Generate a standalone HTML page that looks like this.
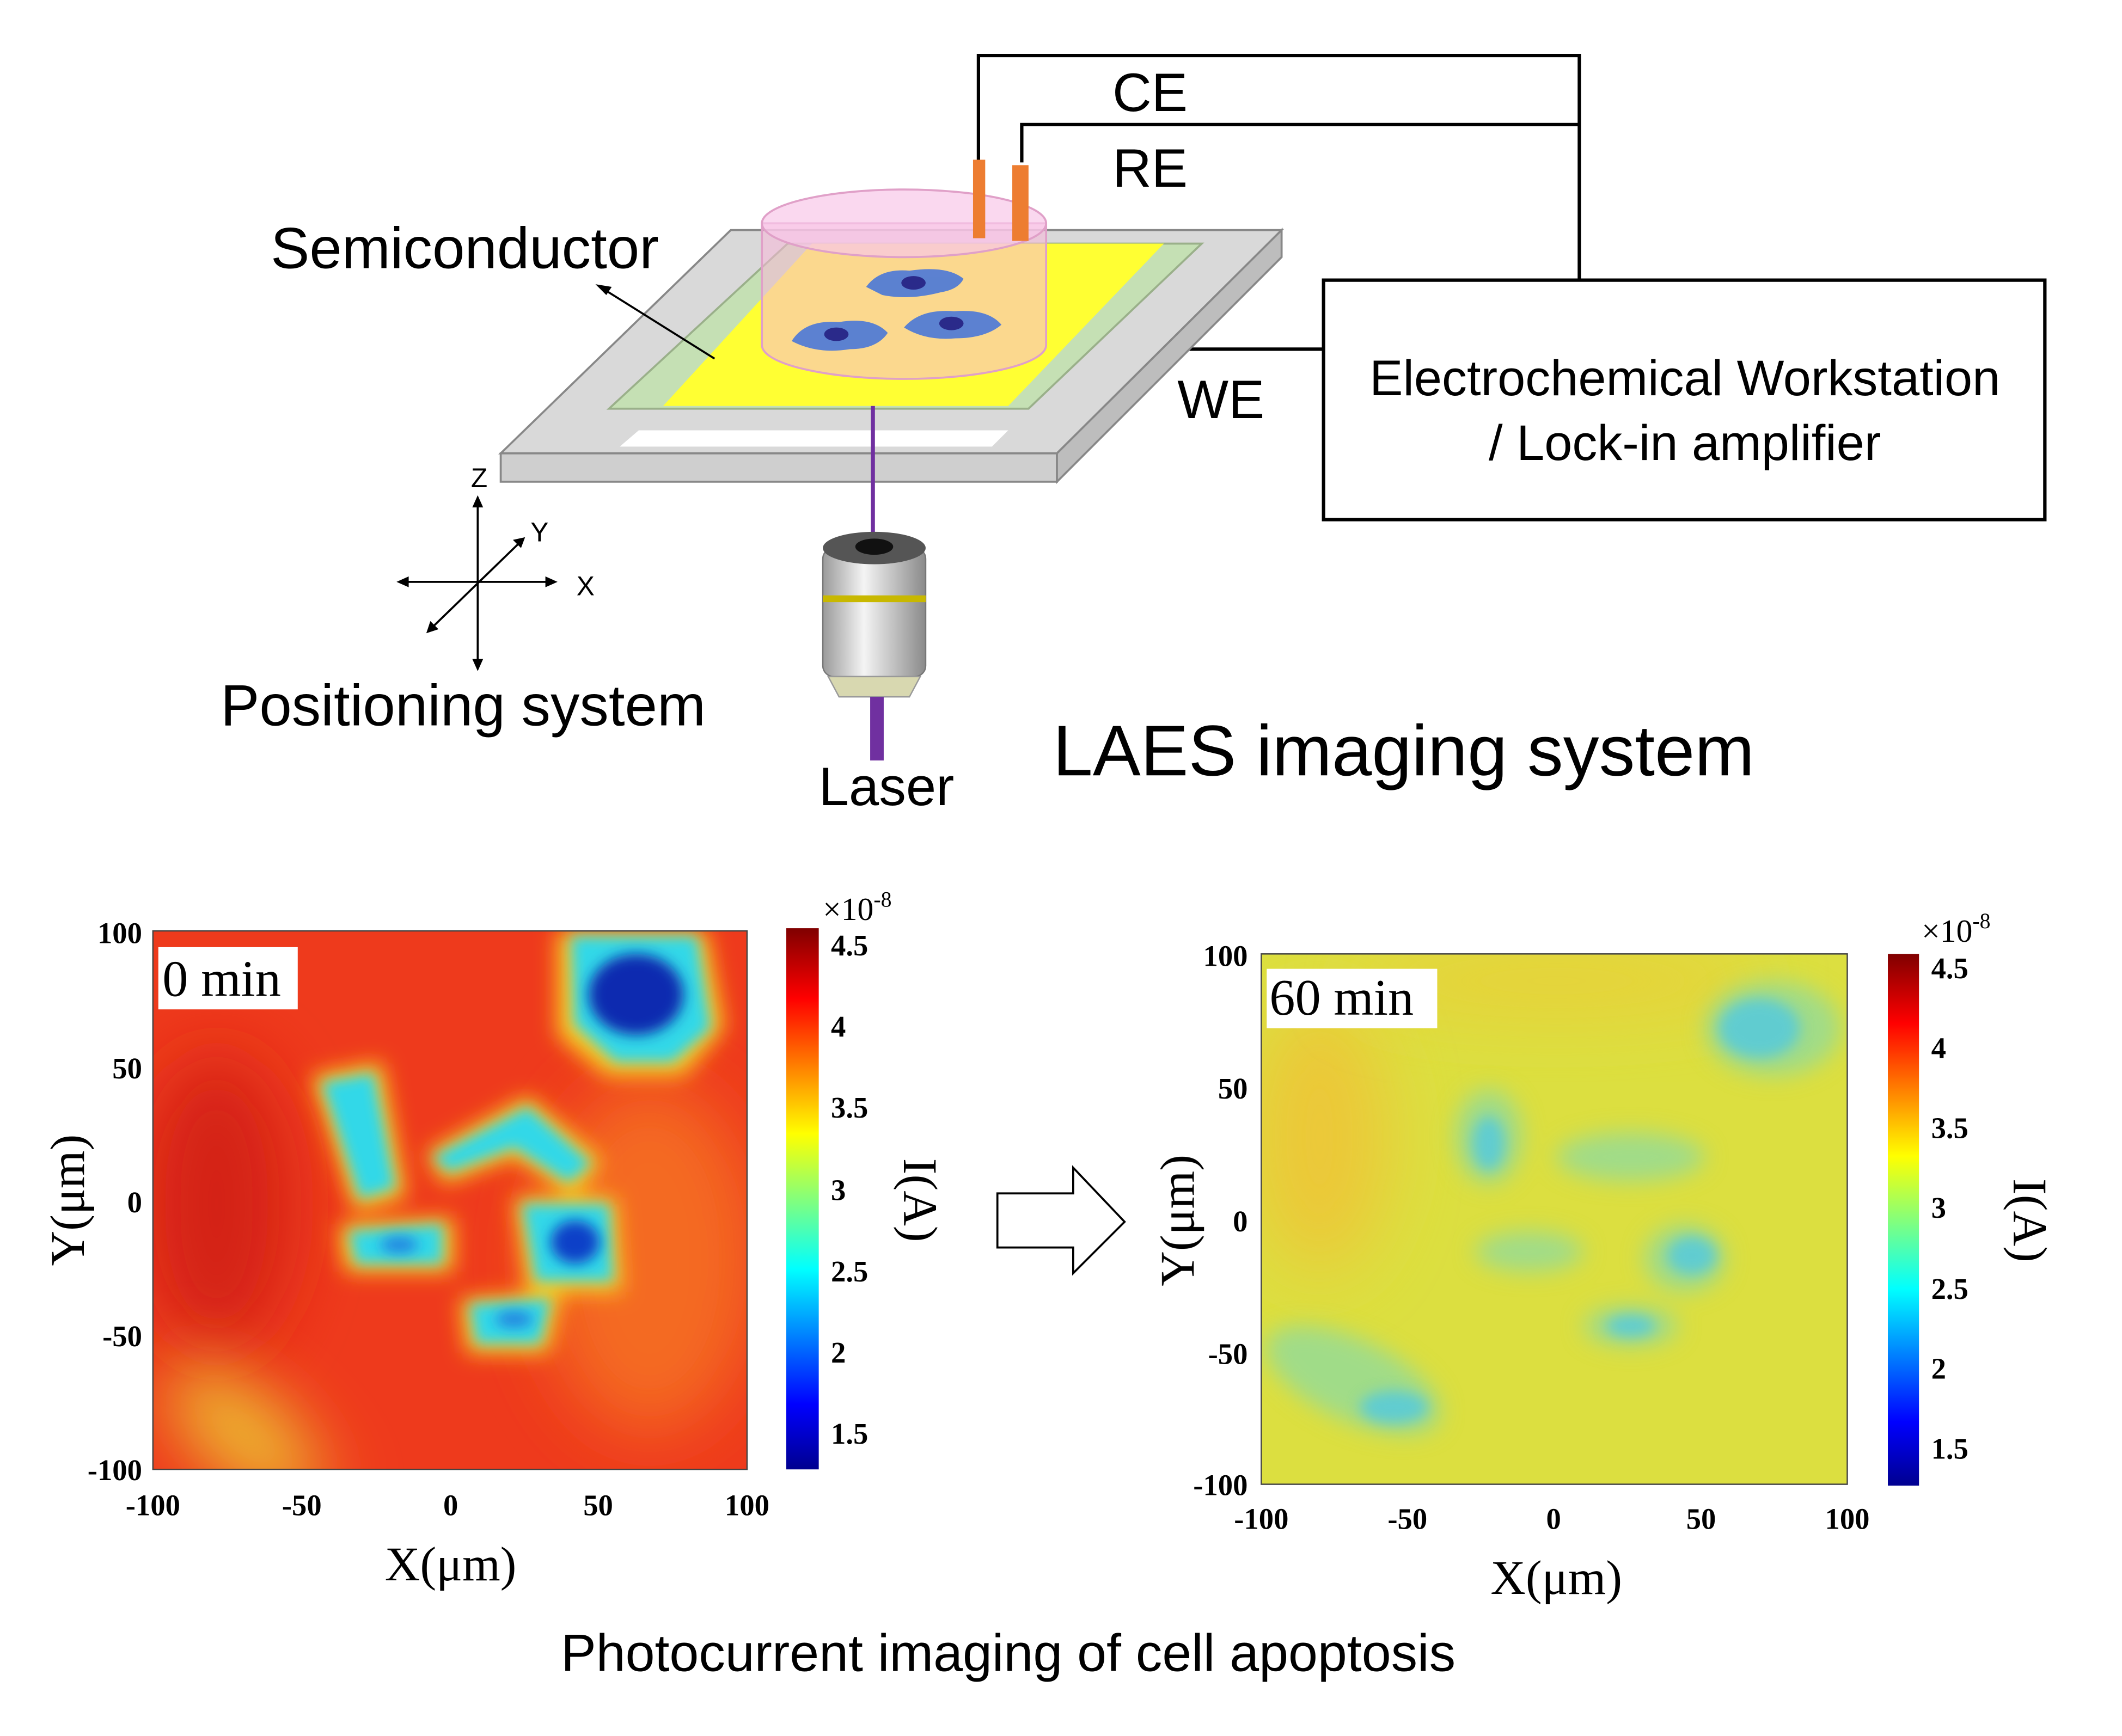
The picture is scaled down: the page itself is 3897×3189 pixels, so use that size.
<!DOCTYPE html>
<html><head><meta charset="utf-8"><style>
html,body{margin:0;padding:0;background:#fff}
svg{display:block}
.s{font-family:"Liberation Sans",sans-serif}
.r{font-family:"Liberation Serif",serif}
</style></head><body>
<svg width="3897" height="3189" viewBox="0 0 1568 1283" xmlns="http://www.w3.org/2000/svg">
<defs>
<filter id="b8" x="-50%" y="-50%" width="200%" height="200%"><feGaussianBlur stdDeviation="8"/></filter>
<filter id="b5" x="-50%" y="-50%" width="200%" height="200%"><feGaussianBlur stdDeviation="5"/></filter>
<filter id="b20" x="-100%" y="-100%" width="300%" height="300%"><feGaussianBlur stdDeviation="25"/></filter>
<linearGradient id="jet" x1="0" y1="1" x2="0" y2="0">
<stop offset="0" stop-color="#00008f"/><stop offset="0.12" stop-color="#0000ff"/>
<stop offset="0.37" stop-color="#00ffff"/><stop offset="0.62" stop-color="#ffff00"/>
<stop offset="0.87" stop-color="#ff0000"/><stop offset="1" stop-color="#800000"/></linearGradient>
<linearGradient id="obj" x1="0" x2="1"><stop offset="0" stop-color="#9a9a9a"/><stop offset="0.4" stop-color="#f4f4f4"/><stop offset="1" stop-color="#8a8a8a"/></linearGradient>
<clipPath id="c1"><rect x="113" y="688" width="439" height="398"/></clipPath>
<clipPath id="c2"><rect x="932" y="705" width="433" height="392"/></clipPath>
</defs>

<g fill="none" stroke="#000" stroke-width="2.5">
<polyline points="723,120 723,41 1167,41 1167,207"/>
<polyline points="755,120 755,92 1167,92"/>
<line x1="797" y1="258" x2="978" y2="258"/>
<rect x="978" y="207" width="533" height="177"/>
</g>
<text x="822" y="82" class="s" font-size="40">CE</text>
<text x="822" y="138" class="s" font-size="40">RE</text>
<text x="870" y="309" class="s" font-size="40">WE</text>
<text x="1245" y="292" class="s" font-size="37" text-anchor="middle">Electrochemical Workstation</text>
<text x="1245" y="340" class="s" font-size="37" text-anchor="middle">/ Lock-in amplifier</text>

<polygon points="540,170 947,170 781,335 370,335" fill="#d9d9d9" stroke="#888" stroke-width="1.5"/>
<polygon points="370,335 781,335 781,356 370,356" fill="#cfcfcf" stroke="#888" stroke-width="1.5"/>
<polygon points="781,335 947,170 947,190 781,356" fill="#bdbdbd" stroke="#888" stroke-width="1.5"/>
<polygon points="472,318 745,318 733,330 458,330" fill="#fff"/>
<polygon points="582,180 888,180 760,302 450,302" fill="#c5e0b4" stroke="#9ab08a" stroke-width="1.5"/>
<polygon points="600,180 860,180 745,300 490,300" fill="#ffff33"/>
<line x1="645" y1="300" x2="645" y2="398" stroke="#7030a0" stroke-width="3"/>
<path d="M563,165 L563,255 A105,25 0 0 0 773,255 L773,165 Z" fill="#f8b8d8" fill-opacity="0.55" stroke="#e0a0c8" stroke-width="1.5"/>
<ellipse cx="668" cy="165" rx="105" ry="25" fill="#f8c8e8" fill-opacity="0.7" stroke="#e0a0c8" stroke-width="1.5"/>
<g fill="#4a78d8" opacity="0.9">
<path d="M640,212 Q650,198 672,200 Q700,196 712,206 Q708,214 695,216 Q672,222 652,218 Z"/>
<path d="M585,252 Q595,236 620,238 Q645,234 656,246 Q648,258 628,258 Q604,262 585,252 Z"/>
<path d="M668,242 Q680,228 705,230 Q730,228 740,240 Q728,250 706,250 Q684,252 668,242 Z"/>
</g>
<g fill="#2a2a8a"><ellipse cx="675" cy="209" rx="9" ry="5"/><ellipse cx="618" cy="247" rx="9" ry="5"/><ellipse cx="703" cy="239" rx="9" ry="5"/></g>
<rect x="719" y="118" width="9" height="58" fill="#ed7d31"/>
<rect x="748" y="122" width="12" height="56" fill="#ed7d31"/>
<text x="200" y="198" class="s" font-size="43">Semiconductor</text>
<line x1="528" y1="265" x2="445" y2="213" stroke="#000" stroke-width="1.5"/>
<polygon points="440,210 452,212 448,218" fill="#000"/>
<rect x="608" y="405" width="76" height="95" rx="8" fill="url(#obj)" stroke="#777"/>
<ellipse cx="646" cy="405" rx="38" ry="12" fill="#555"/>
<ellipse cx="646" cy="404" rx="14" ry="6" fill="#111"/>
<rect x="608" y="440" width="76" height="5" fill="#c8b800"/>
<path d="M612,500 L680,500 L672,515 L620,515 Z" fill="#d8d8b0" stroke="#999"/>
<rect x="643" y="515" width="10" height="47" fill="#7030a0"/>
<text x="605" y="595" class="s" font-size="40">Laser</text>
<text x="778" y="573" class="s" font-size="53">LAES imaging system</text>
<g stroke="#000" stroke-width="1.5">
<line x1="353" y1="370" x2="353" y2="492"/><line x1="297" y1="430" x2="408" y2="430"/><line x1="318" y1="465" x2="385" y2="400"/>
</g>
<g fill="#000">
<polygon points="353,366 349,375 357,375"/><polygon points="353,496 349,487 357,487"/>
<polygon points="293,430 302,426 302,434"/><polygon points="412,430 403,426 403,434"/>
<polygon points="388,397 379,399 385,405"/><polygon points="315,468 318,459 324,465"/>
</g>
<text x="348" y="360" class="s" font-size="20">Z</text>
<text x="392" y="400" class="s" font-size="20">Y</text>
<text x="426" y="440" class="s" font-size="20">X</text>
<text x="163" y="536" class="s" font-size="43">Positioning system</text>

<!-- Plot 1 -->
<g clip-path="url(#c1)">
<rect x="113" y="688" width="439" height="398" fill="#ee3a1c"/>
<ellipse cx="160" cy="890" rx="55" ry="110" fill="#d42012" filter="url(#b20)"/>
<ellipse cx="480" cy="930" rx="80" ry="130" fill="#f46a20" filter="url(#b20)"/>
<ellipse cx="180" cy="1060" rx="70" ry="30" transform="rotate(40 180 1060)" fill="#ecc030" filter="url(#b20)"/>
<g filter="url(#b8)" fill="#f8d020">
<path d="M412,688 L522,688 L535,760 L505,795 L448,795 L412,765 Z"/>
<path d="M230,795 L282,785 L300,885 L262,895 Z"/>
<path d="M315,852 L390,810 L445,858 L425,885 L380,855 L328,875 Z"/>
<path d="M250,905 L335,900 L335,940 L255,940 Z"/>
<path d="M380,885 L455,885 L460,955 L390,955 Z"/>
<path d="M340,960 L415,955 L405,1000 L345,1000 Z"/>
</g>
<g filter="url(#b5)" fill="#30d8e8">
<path d="M422,692 L515,692 L525,760 L497,785 L455,785 L424,757 Z"/>
<path d="M238,800 L276,793 L292,878 L266,886 Z"/>
<path d="M320,855 L390,818 L437,860 L420,874 L380,848 L332,866 Z"/>
<path d="M258,910 L327,905 L327,934 L263,934 Z"/>
<path d="M386,890 L450,890 L453,947 L396,947 Z"/>
<path d="M347,964 L407,960 L399,993 L352,993 Z"/>
</g>
<g filter="url(#b5)" fill="#0a2ab0">
<ellipse cx="470" cy="735" rx="35" ry="30"/>
<ellipse cx="425" cy="918" rx="18" ry="16" fill="#1040c8"/>
<ellipse cx="295" cy="920" rx="14" ry="6" fill="#2080e0"/>
<ellipse cx="380" cy="975" rx="14" ry="6" fill="#2080e0"/>
</g>
</g>
<rect x="113" y="688" width="439" height="398" fill="none" stroke="#444" stroke-width="1"/>
<rect x="117" y="700" width="103" height="46" fill="#fff"/>
<text x="120" y="736" class="r" font-size="38">0 min</text>
<rect x="581" y="686" width="24" height="400" fill="url(#jet)"/>
<g class="r" font-size="22" font-weight="bold">
<text x="105" y="697" text-anchor="end">100</text><text x="105" y="797" text-anchor="end">50</text>
<text x="105" y="896" text-anchor="end">0</text><text x="105" y="995" text-anchor="end">-50</text>
<text x="105" y="1094" text-anchor="end">-100</text>
<text x="113" y="1120" text-anchor="middle">-100</text><text x="223" y="1120" text-anchor="middle">-50</text>
<text x="333" y="1120" text-anchor="middle">0</text><text x="442" y="1120" text-anchor="middle">50</text>
<text x="552" y="1120" text-anchor="middle">100</text>
<text x="614" y="706">4.5</text><text x="614" y="766">4</text><text x="614" y="826">3.5</text>
<text x="614" y="887">3</text><text x="614" y="947">2.5</text><text x="614" y="1007">2</text><text x="614" y="1067">1.5</text>
</g>
<text x="608" y="680" class="r" font-size="24">×10<tspan font-size="16" dy="-10">-8</tspan></text>
<text x="333" y="1168" class="r" font-size="36" text-anchor="middle">X(μm)</text>
<text transform="translate(62,887) rotate(-90)" class="r" font-size="36" text-anchor="middle">Y(μm)</text>
<text transform="translate(668,887) rotate(90)" class="r" font-size="36" text-anchor="middle">I(A)</text>

<polygon points="737,882 793,882 793,863 831,903 793,941 793,922 737,922" fill="#fff" stroke="#000" stroke-width="1.5"/>

<!-- Plot 2 -->
<g clip-path="url(#c2)">
<rect x="932" y="705" width="433" height="392" fill="#dcdf40"/>
<ellipse cx="975" cy="840" rx="50" ry="100" fill="#ecc838" filter="url(#b20)"/>
<ellipse cx="1150" cy="725" rx="150" ry="25" fill="#e8d038" filter="url(#b20)"/>
<g filter="url(#b8)" fill="#a0dc88">
<ellipse cx="1310" cy="760" rx="50" ry="35"/>
<ellipse cx="1100" cy="840" rx="25" ry="35"/>
<ellipse cx="1205" cy="855" rx="55" ry="18"/>
<ellipse cx="1130" cy="925" rx="40" ry="15"/>
<ellipse cx="1245" cy="930" rx="30" ry="25"/>
<ellipse cx="1205" cy="980" rx="35" ry="15"/>
<ellipse cx="1000" cy="1020" rx="70" ry="30" transform="rotate(25 1000 1020)"/>
</g>
<g filter="url(#b5)" fill="#60ccd0">
<ellipse cx="1300" cy="760" rx="30" ry="22"/>
<ellipse cx="1100" cy="845" rx="12" ry="20"/>
<ellipse cx="1250" cy="928" rx="18" ry="14"/>
<ellipse cx="1205" cy="980" rx="18" ry="8"/>
<ellipse cx="1030" cy="1040" rx="25" ry="12"/>
</g>
</g>
<rect x="932" y="705" width="433" height="392" fill="none" stroke="#444" stroke-width="1"/>
<rect x="936" y="716" width="126" height="44" fill="#fff"/>
<text x="938" y="750" class="r" font-size="38">60 min</text>
<rect x="1395" y="705" width="23" height="393" fill="url(#jet)"/>
<g class="r" font-size="22" font-weight="bold">
<text x="922" y="714" text-anchor="end">100</text><text x="922" y="812" text-anchor="end">50</text>
<text x="922" y="910" text-anchor="end">0</text><text x="922" y="1008" text-anchor="end">-50</text>
<text x="922" y="1105" text-anchor="end">-100</text>
<text x="932" y="1130" text-anchor="middle">-100</text><text x="1040" y="1130" text-anchor="middle">-50</text>
<text x="1148" y="1130" text-anchor="middle">0</text><text x="1257" y="1130" text-anchor="middle">50</text>
<text x="1365" y="1130" text-anchor="middle">100</text>
<text x="1427" y="723">4.5</text><text x="1427" y="782">4</text><text x="1427" y="841">3.5</text>
<text x="1427" y="900">3</text><text x="1427" y="960">2.5</text><text x="1427" y="1019">2</text><text x="1427" y="1078">1.5</text>
</g>
<text x="1420" y="696" class="r" font-size="24">×10<tspan font-size="16" dy="-10">-8</tspan></text>
<text x="1150" y="1178" class="r" font-size="36" text-anchor="middle">X(μm)</text>
<text transform="translate(882,902) rotate(-90)" class="r" font-size="36" text-anchor="middle">Y(μm)</text>
<text transform="translate(1488,902) rotate(90)" class="r" font-size="36" text-anchor="middle">I(A)</text>

<text x="745" y="1235" class="s" font-size="39" text-anchor="middle">Photocurrent imaging of cell apoptosis</text>
</svg>
</body></html>
